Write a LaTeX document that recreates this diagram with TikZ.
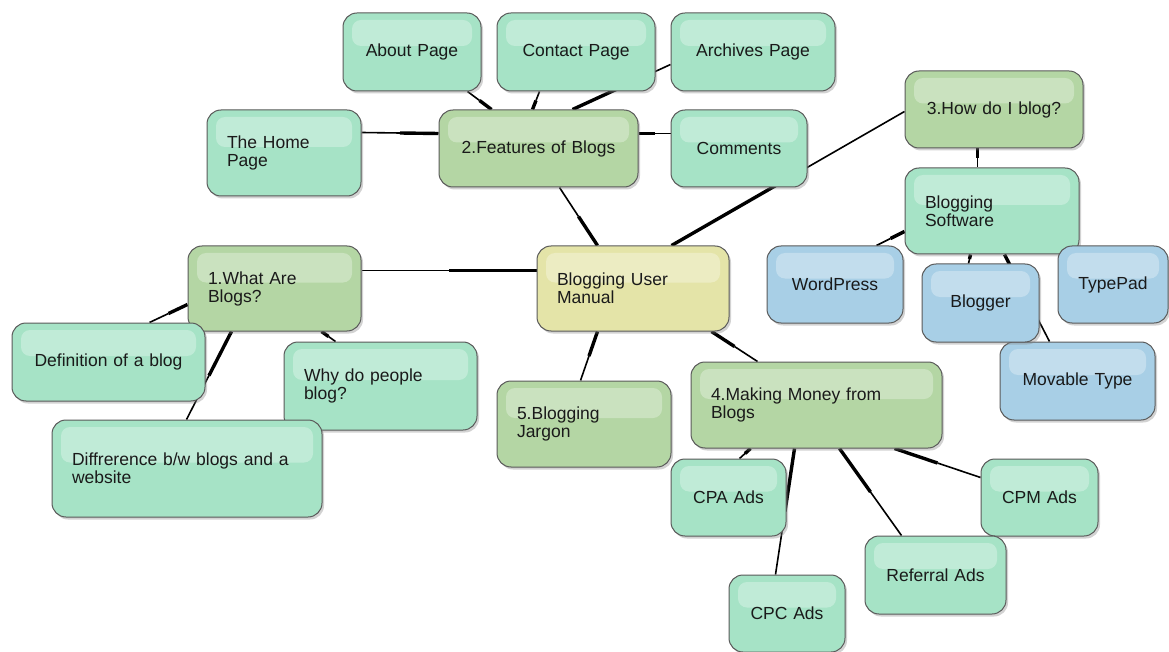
\documentclass[tikz,border=0pt]{standalone}
\usepackage{fontspec}
\setmainfont{Liberation Sans}
\usetikzlibrary{calc,shadows,backgrounds}
\definecolor{cmint}{HTML}{A6E3C6}
\definecolor{colive}{HTML}{B4D6A4}
\definecolor{cyel}{HTML}{E4E4A8}
\definecolor{cblue}{HTML}{A8CFE6}
\definecolor{bord}{HTML}{5A5A5A}
\definecolor{txt}{HTML}{1A1A1A}
\tikzset{
  bx/.style={draw=bord, line width=1pt, rounded corners=14pt, inner sep=0pt, text=txt,
    font=\fontsize{17.5}{18}\selectfont,
    drop shadow={shadow xshift=2pt,shadow yshift=-2.5pt,opacity=0.35},
    path picture={\fill[white,opacity=0.3,rounded corners=9pt]
      ([xshift=9pt,yshift=-7pt]path picture bounding box.north west) rectangle
      ([xshift=-9pt,yshift=6pt]path picture bounding box.east);}},
  mint/.style={bx, fill=cmint},
  olive/.style={bx, fill=colive},
  yel/.style={bx, fill=cyel},
  blu/.style={bx, fill=cblue},
  thk/.style={line width=3.4pt, black},
  thn/.style={line width=1.6pt, black}
}
\newcommand\bx[7]{%
  \pgfmathsetmacro\bxw{#4-#2}\pgfmathsetmacro\bxh{#5-#3}\pgfmathsetmacro\bxt{#4-#2-40}%
  \node[#6, minimum width=\bxw pt, minimum height=\bxh pt, text width=\bxt pt]
    (#1) at ({(#2+#4)/2},{(#3+#5)/2}) {#7};}
\newcommand\lnk[3]{%
  \coordinate (#1a) at #2; \coordinate (#1b) at #3;
  \draw[thk] (#1a) -- ($(#1a)!0.5!(#1b)$);
  \draw[thn] ($(#1a)!0.5!(#1b)$) -- (#1b);}
\begin{document}
\begin{tikzpicture}[x=1pt,y=-1pt]
\useasboundingbox (0,0) rectangle (1169,652);
% central and main topics
\bx{ctr}{537}{246}{729}{331}{yel,align=left}{Blogging User\\Manual}
\bx{n1}{188}{246}{361}{331}{olive,align=left}{1.What Are\\Blogs?}
\bx{feat}{439}{110}{638}{187}{olive,align=center}{2.Features of Blogs}
\bx{n3}{905}{71}{1083}{148}{olive,align=center}{3.How do I blog?}
\bx{n4}{691}{362}{942}{448}{olive,align=left}{4.Making Money from\\Blogs}
\bx{n5}{497}{381}{671}{467}{olive,align=left}{5.Blogging\\Jargon}
% features
\bx{about}{343}{13}{481}{91}{mint,align=center}{About Page}
\bx{contact}{497}{13}{655}{91}{mint,align=center}{Contact Page}
\bx{arch}{671}{13}{835}{91}{mint,align=center}{Archives Page}
\bx{home}{207}{110}{361}{196}{mint,align=left}{The Home\\Page}
\bx{comm}{671}{110}{807}{187}{mint,align=center}{Comments}
% how do I blog
\bx{sw}{905}{168}{1079}{254}{mint,align=left}{Blogging\\Software}
\bx{wp}{767}{246}{903}{323}{blu,align=center}{WordPress}
\bx{mov}{1000}{342}{1155}{420}{blu,align=center}{Movable Type}
\bx{blg}{922}{264}{1039}{342}{blu,align=center}{Blogger}
\bx{tp}{1058}{246}{1168}{323}{blu,align=center}{TypePad}
% what are blogs
\bx{def}{12}{323}{205}{401}{mint,align=center}{Definition of a blog}
\bx{why}{284}{342}{477}{430}{mint,align=left}{Why do people\\blog?}
\bx{diff}{52}{420}{322}{517}{mint,align=left}{Diffrerence b/w blogs and a\\website}
% making money
\bx{cpa}{671}{459}{786}{536}{mint,align=center}{CPA Ads}
\bx{cpm}{981}{459}{1098}{536}{mint,align=center}{CPM Ads}
\bx{ref}{865}{536}{1006}{614}{mint,align=center}{Referral Ads}
\bx{cpc}{729}{575}{845}{652}{mint,align=center}{CPC Ads}
\begin{scope}[on background layer]
\fill[white] (0,0) rectangle (1169,652);
\lnk{La}{($(ctr.north west)+(61,0)$)}{($(feat.south west)+(121,0)$)}
\lnk{Lb}{($(ctr.north west)+(0,25)$)}{($(n1.north east)+(0,25)$)}
\lnk{Lc}{($(ctr.north west)+(135,0)$)}{($(n3.north west)+(0,41)$)}
\lnk{Ld}{($(ctr.south west)+(175,0)$)}{($(n4.north west)+(67,0)$)}
\lnk{Le}{($(ctr.south west)+(61,0)$)}{($(n5.north west)+(84,0)$)}
\lnk{Lf}{($(feat.north west)+(53,0)$)}{($(about.south west)+(125,0)$)}
\lnk{Lg}{($(feat.north west)+(94,0)$)}{($(contact.south west)+(43,0)$)}
\lnk{Lh}{($(feat.north west)+(134,0)$)}{($(arch.north west)+(0,52)$)}
\lnk{Li}{($(feat.north west)+(0,24)$)}{($(home.north east)+(0,23)$)}
\lnk{Lj}{($(feat.north east)+(0,24)$)}{($(comm.north west)+(0,24)$)}
\lnk{Lk}{($(n3.south west)+(73,0)$)}{($(sw.north west)+(73,0)$)}
\lnk{Ll}{($(sw.north west)+(0,64)$)}{($(wp.north west)+(110,0)$)}
\lnk{Lm}{($(sw.south west)+(66,0)$)}{($(blg.north west)+(47,0)$)}
\lnk{Ln}{($(sw.south west)+(100,0)$)}{($(mov.north west)+(50,0)$)}
\lnk{Lo}{($(n1.north west)+(0,59)$)}{($(def.north west)+(138,0)$)}
\lnk{Lp}{($(n1.south west)+(44,0)$)}{($(diff.north west)+(135,0)$)}
\lnk{Lq}{($(n1.south west)+(134,0)$)}{($(why.north west)+(52,0)$)}
\lnk{Lr}{($(n4.south west)+(60,0)$)}{($(cpa.north west)+(69,0)$)}
\lnk{Ls}{($(n4.south west)+(104,0)$)}{($(cpc.north west)+(47,0)$)}
\lnk{Lt}{($(n4.south west)+(149,0)$)}{($(ref.north west)+(37,0)$)}
\lnk{Lu}{($(n4.south west)+(204,0)$)}{($(cpm.north west)+(0,19)$)}
\end{scope}
\end{tikzpicture}
\end{document}
